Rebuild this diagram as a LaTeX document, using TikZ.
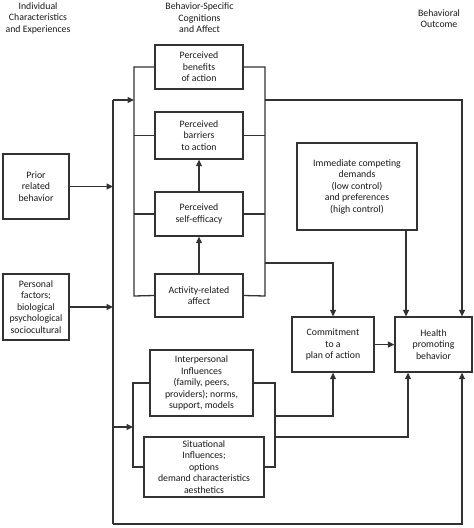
\documentclass[tikz,border=0pt]{standalone}
\usepackage{fontspec}
\setmainfont{Carlito}
\usetikzlibrary{arrows.meta}
\definecolor{lc}{RGB}{50,50,50}
\definecolor{tc}{RGB}{25,25,25}
\begin{document}
\begin{tikzpicture}[x=1pt,y=-1pt,
  every node/.style={font=\fontsize{9.8}{11.5}\selectfont, text=tc, align=center, inner sep=0pt},
  box/.style={draw=lc, line width=1.3pt, minimum width=#1},
  conn/.style={draw=lc, line width=1.3pt},
  arr/.style={conn, -{Triangle[length=6.5pt,width=6pt]}}]
\useasboundingbox (0,0) rectangle (474,528);
% headers
\node (h1) at (38,18) {Individual\\Characteristics\\and Experiences};
\node (h2) at (199.5,18) {Behavior-Specific\\Cognitions\\and Affect};
\node (h3) at (439,18.5) {Behavioral\\Outcome};
% boxes
\node[box=88pt, minimum height=44pt] (ben) at (199,67) {Perceived\\benefits\\of action};
\node[box=88pt, minimum height=47pt] (bar) at (199,135.5) {Perceived\\barriers\\to action};
\node[box=88pt, minimum height=44pt] (eff) at (199,214) {Perceived\\self-efficacy};
\node[box=88pt, minimum height=43pt] (aff) at (199,295.5) {Activity-related\\affect};
\node[box=66pt, minimum height=65pt] (prior) at (36,186.5) {Prior\\related\\behavior};
\node[box=66pt, minimum height=66pt] (pers) at (36,307) {Personal\\factors;\\biological\\psychological\\sociocultural};
\node[box=120pt, minimum height=87pt] (dem) at (357,186.5) {Immediate competing\\demands\\(low control)\\and preferences\\(high control)};
\node[box=82pt, minimum height=55pt] (com) at (333,344.5) {Commitment\\to a\\plan of action};
\node[box=77pt, minimum height=55pt] (hlth) at (433.5,344.5) {Health\\promoting\\behavior};
\node[box=103pt, minimum height=66pt] (inter) at (201.5,383) {Interpersonal\\Influences\\(family, peers,\\providers); norms,\\support, models};
\node[box=120pt, minimum height=60pt] (sit) at (204,467) {Situational\\Influences;\\options\\demand characteristics\\aesthetics};
% coordinates
\coordinate (lbT) at (134,67);
\coordinate (lbB) at (134,296);
\coordinate (lbIn) at (134,100);
\coordinate (rbT) at (265,67);
\coordinate (rbB) at (265,296);
\coordinate (rbOut) at (265,100);
\coordinate (rbOut2) at (265,263);
\coordinate (spT) at (113,100);
\coordinate (spB) at (113,524);
\coordinate (spPrior) at (113,186.5);
\coordinate (spPers) at (113,307);
\coordinate (spLow) at (113,427);
\coordinate (lb2T) at (133,383);
\coordinate (lb2B) at (133,467);
\coordinate (lb2In) at (133,427);
\coordinate (rb2T) at (275,383);
\coordinate (rb2B) at (275,467);
\coordinate (rb2a) at (275,416);
\coordinate (rb2b) at (275,437);
% top group brackets
\draw[conn] (ben.west) -- (lbT) -- (lbB) -- (aff.west);
\draw[conn] (bar.west) -- (bar.west -| lbT);
\draw[conn] (eff.west) -- (eff.west -| lbT);
\draw[conn] (ben.east) -- (rbT) -- (rbB) -- (aff.east);
\draw[conn] (bar.east) -- (bar.east -| rbT);
\draw[conn] (eff.east) -- (eff.east -| rbT);
\draw[arr] (aff.north) -- (eff.south);
\draw[arr] (eff.north) -- (bar.south);
% spine
\draw[conn] (spT) -- (spB);
\draw[arr] (spT) -- (lbIn);
\draw[arr] (prior.east) -- (spPrior);
\draw[arr] (pers.east) -- (spPers);
\draw[arr] (spLow) -- (lb2In);
% lower group brackets
\draw[conn] (inter.west) -- (lb2T) -- (lb2B) -- (sit.west);
\draw[conn] (inter.east) -- (rb2T) -- (rb2B) -- (sit.east);
% to outcomes
\draw[arr] (rbOut) -| ([xshift=28.5pt]hlth.north);
\draw[arr] (rbOut2) -| (com.north);
\draw[arr] (dem.south -| {(406,0)}) -- (hlth.north -| {(406,0)});
\draw[arr] (com.east) -- (hlth.west);
\draw[arr] (rb2a) -| (com.south);
\draw[arr] (rb2b) -| ([xshift=-25.5pt]hlth.south);
\draw[arr] (spB) -| ([xshift=28.5pt]hlth.south);
\end{tikzpicture}
\end{document}
